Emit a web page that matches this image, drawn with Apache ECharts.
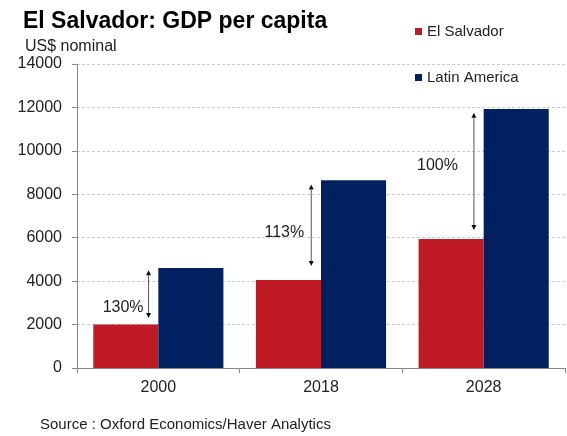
<!DOCTYPE html>
<html><head><meta charset="utf-8">
<script src="https://cdn.jsdelivr.net/npm/echarts@6/dist/echarts.min.js"></script>
<style>html,body{margin:0;padding:0;background:#fff}#c{width:567px;height:436px}</style>
</head><body><div id="c"></div>
<script>
const categories = ['2000', '2018', '2028'];
const elSalvador = [2000, 4050, 5940];
const latinAmerica = [4600, 8650, 11930];
const yTicks = [0, 2000, 4000, 6000, 8000, 10000, 12000, 14000];
// annotation arrows (value range) and labels
const arrowTop = [4500, 8450, 11750];
const arrowBottom = [2300, 4700, 6350];
const gapLabels = ['130%', '113%', '100%'];
const labelLevel = [2800, 6220, 9300];

const labelDx = [-5, -7, -16];
const FONT = 'Liberation Sans, Arial, sans-serif';
const RED = '#C01A24', NAVY = '#00205F';

const arrowData = categories.map((c, i) => [i, arrowTop[i], arrowBottom[i], labelLevel[i], gapLabels[i]]);

const chart = echarts.init(document.getElementById('c'), null, {renderer: 'canvas'});
chart.setOption({
  animation: false,
  backgroundColor: '#fff',
  textStyle: {fontFamily: FONT},
  title: [
    {text: 'El Salvador: GDP per capita', left: 18, top: 5,
     textStyle: {fontFamily: FONT, fontSize: 23, fontWeight: 'bold', color: '#000'}},
    {text: 'US$ nominal', left: 20, top: 34,
     textStyle: {fontFamily: FONT, fontSize: 16, fontWeight: 'normal', color: '#222'}},
    {text: 'Source : Oxford Economics/Haver Analytics', left: 35, top: 412,
     textStyle: {fontFamily: FONT, fontSize: 15, fontWeight: 'normal', color: '#222'}}
  ],
  legend: {
    orient: 'vertical', left: 410, top: 19, itemGap: 31,
    itemWidth: 7, itemHeight: 7, icon: 'rect',
    textStyle: {fontFamily: FONT, fontSize: 15, color: '#222'},
    data: ['El Salvador', 'Latin America']
  },
  grid: {left: 77, right: 2, top: 64, bottom: 68, containLabel: false},
  xAxis: {
    type: 'category', data: categories,
    axisLine: {lineStyle: {color: '#888'}},
    axisTick: {show: true, alignWithLabel: false, length: 5, lineStyle: {color: '#888'}},
    axisLabel: {fontFamily: FONT, fontSize: 16, color: '#222', margin: 12}
  },
  yAxis: {
    type: 'value', min: yTicks[0], max: yTicks[yTicks.length - 1], interval: 2000,
    axisLine: {show: true, lineStyle: {color: '#888'}},
    axisTick: {show: true, length: 5, lineStyle: {color: '#888'}},
    axisLabel: {fontFamily: FONT, fontSize: 16, color: '#222', margin: 15,
                formatter: function (v) { return String(v); }},
    splitLine: {lineStyle: {color: '#ccc', type: [3, 2]}}
  },
  series: [
    {name: 'El Salvador', type: 'bar', data: elSalvador, barGap: '0%', barCategoryGap: '20%',
     itemStyle: {color: RED}},
    {name: 'Latin America', type: 'bar', data: latinAmerica, barGap: '0%', barCategoryGap: '20%',
     itemStyle: {color: NAVY}},
    {type: 'custom', data: arrowData, z: 10, silent: true,
     renderItem: function (params, api) {
       const i = api.value(0);
       const band = api.size([1, 0])[0];
       const top = api.coord([i, api.value(1)]);
       const bot = api.coord([i, api.value(2)]);
       const lab = api.coord([i, api.value(3)]);
       const x = top[0] - band * 0.06;
       const ah = 5, aw = 2.5;
       return {type: 'group', children: [
         {type: 'line', shape: {x1: x, y1: top[1] + ah, x2: x, y2: bot[1] - ah},
          style: {stroke: '#555', lineWidth: 1}},
         {type: 'polygon', shape: {points: [[x, top[1]], [x - aw, top[1] + ah], [x + aw, top[1] + ah]]},
          style: {fill: '#111'}},
         {type: 'polygon', shape: {points: [[x, bot[1]], [x - aw, bot[1] - ah], [x + aw, bot[1] - ah]]},
          style: {fill: '#111'}},
         {type: 'text', x: x + labelDx[i], y: lab[1],
          style: {text: gapLabels[i], fontFamily: FONT, fontSize: 16, fill: '#222',
                  align: 'right', verticalAlign: 'middle'}}
       ]};
     }}
  ]
});
</script></body></html>
